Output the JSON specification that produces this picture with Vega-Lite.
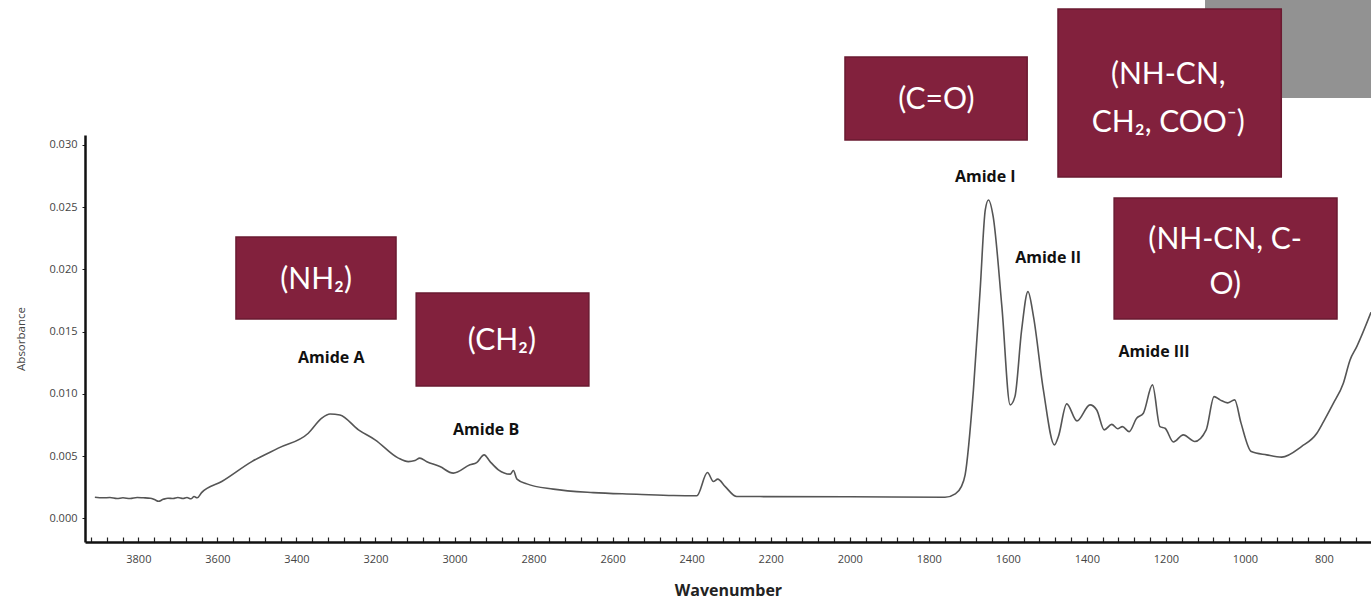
{
  "$schema": "https://vega.github.io/schema/vega-lite/v6.json",
  "width": 1286,
  "height": 407,
  "autosize": {"type": "none"},
  "padding": {"left": 85, "top": 135, "right": 0, "bottom": 59},
  "background": "white",
  "config": {"view": {"stroke": null}},
  "datasets": {
    "spectrum": [
      {"w": 3910, "a": 0.00170}, {"w": 3889, "a": 0.00165}, {"w": 3872, "a": 0.00167}, {"w": 3854, "a": 0.00159},
      {"w": 3839, "a": 0.00165}, {"w": 3821, "a": 0.00159}, {"w": 3803, "a": 0.00167}, {"w": 3788, "a": 0.00165},
      {"w": 3770, "a": 0.00162}, {"w": 3758, "a": 0.00149}, {"w": 3749, "a": 0.00137}, {"w": 3737, "a": 0.00153},
      {"w": 3725, "a": 0.00162}, {"w": 3712, "a": 0.00159}, {"w": 3700, "a": 0.00167}, {"w": 3687, "a": 0.00159},
      {"w": 3677, "a": 0.00167}, {"w": 3667, "a": 0.00157}, {"w": 3659, "a": 0.00175}, {"w": 3651, "a": 0.00165},
      {"w": 3640, "a": 0.00207}, {"w": 3589, "a": 0.00296}, {"w": 3513, "a": 0.00456}, {"w": 3446, "a": 0.00564},
      {"w": 3370, "a": 0.00684}, {"w": 3336, "a": 0.00805}, {"w": 3315, "a": 0.00839}, {"w": 3290, "a": 0.00831},
      {"w": 3243, "a": 0.00711}, {"w": 3201, "a": 0.00631}, {"w": 3142, "a": 0.00484}, {"w": 3117, "a": 0.00456},
      {"w": 3100, "a": 0.00465}, {"w": 3088, "a": 0.00484}, {"w": 3070, "a": 0.00455}, {"w": 3037, "a": 0.00416},
      {"w": 3003, "a": 0.00363}, {"w": 2961, "a": 0.00430}, {"w": 2944, "a": 0.00448}, {"w": 2925, "a": 0.00510},
      {"w": 2910, "a": 0.00456}, {"w": 2889, "a": 0.00390}, {"w": 2859, "a": 0.00355}, {"w": 2851, "a": 0.00384},
      {"w": 2842, "a": 0.00315}, {"w": 2817, "a": 0.00277}, {"w": 2750, "a": 0.00235}, {"w": 2649, "a": 0.00207},
      {"w": 2539, "a": 0.00194}, {"w": 2446, "a": 0.00183}, {"w": 2387, "a": 0.00181}, {"w": 2360, "a": 0.00368},
      {"w": 2345, "a": 0.00296}, {"w": 2334, "a": 0.00315}, {"w": 2315, "a": 0.00255}, {"w": 2286, "a": 0.00175},
      {"w": 2227, "a": 0.00175}, {"w": 1999, "a": 0.00173}, {"w": 1759, "a": 0.00169}, {"w": 1733, "a": 0.00197},
      {"w": 1718, "a": 0.00253}, {"w": 1708, "a": 0.00349}, {"w": 1687, "a": 0.01032}, {"w": 1670, "a": 0.01835},
      {"w": 1657, "a": 0.02478}, {"w": 1649, "a": 0.02558}, {"w": 1637, "a": 0.02424}, {"w": 1615, "a": 0.01701},
      {"w": 1594, "a": 0.00912}, {"w": 1582, "a": 0.00978}, {"w": 1565, "a": 0.01514}, {"w": 1549, "a": 0.01822},
      {"w": 1535, "a": 0.01621}, {"w": 1510, "a": 0.01032}, {"w": 1482, "a": 0.00590}, {"w": 1472, "a": 0.00657},
      {"w": 1451, "a": 0.00920}, {"w": 1425, "a": 0.00783}, {"w": 1392, "a": 0.00912}, {"w": 1375, "a": 0.00871},
      {"w": 1356, "a": 0.00711}, {"w": 1337, "a": 0.00755}, {"w": 1322, "a": 0.00720}, {"w": 1310, "a": 0.00737},
      {"w": 1293, "a": 0.00697}, {"w": 1274, "a": 0.00805}, {"w": 1257, "a": 0.00845}, {"w": 1234, "a": 0.01072},
      {"w": 1215, "a": 0.00737}, {"w": 1202, "a": 0.00724}, {"w": 1181, "a": 0.00614}, {"w": 1156, "a": 0.00671},
      {"w": 1127, "a": 0.00618}, {"w": 1098, "a": 0.00711}, {"w": 1078, "a": 0.00978}, {"w": 1063, "a": 0.00952},
      {"w": 1044, "a": 0.00928}, {"w": 1026, "a": 0.00952}, {"w": 1010, "a": 0.00767}, {"w": 984, "a": 0.00537},
      {"w": 945, "a": 0.00510}, {"w": 907, "a": 0.00492}, {"w": 857, "a": 0.00577}, {"w": 818, "a": 0.00684},
      {"w": 801, "a": 0.00778}, {"w": 776, "a": 0.00925}, {"w": 751, "a": 0.01086}, {"w": 734, "a": 0.01273},
      {"w": 717, "a": 0.01380}, {"w": 681, "a": 0.01655}
    ],
    "shade": [
      {"w": 1101, "w2": 681, "a": 0.03378, "a2": 0.04165}
    ],
    "notes": [
      {"w": 3553, "w2": 3148, "a": 0.01602, "a2": 0.02261},
      {"w": 3097, "w2": 2660, "a": 0.01064, "a2": 0.01811},
      {"w": 2012, "w2": 1551, "a": 0.03040, "a2": 0.03707},
      {"w": 1473, "w2": 908, "a": 0.02743, "a2": 0.04092},
      {"w": 1331, "w2": 767, "a": 0.01602, "a2": 0.02574}
    ],
    "noteText": [
      {"w": 3350, "a": 0.01916, "t": "(NH₂)"},
      {"w": 2880, "a": 0.01426, "t": "(CH₂)"},
      {"w": 1781, "a": 0.03361, "t": "(C=O)"},
      {"w": 1194, "a": 0.03562, "t": "(NH-CN,"},
      {"w": 1194, "a": 0.03177, "t": "CH₂, COO⁻)"},
      {"w": 1050, "a": 0.02237, "t": "(NH-CN, C-"},
      {"w": 1050, "a": 0.01876, "t": "O)"}
    ],
    "bands": [
      {"w": 3312, "a": 0.01289, "t": "Amide A"},
      {"w": 2920, "a": 0.00711, "t": "Amide B"},
      {"w": 1657, "a": 0.02743, "t": "Amide I"},
      {"w": 1498, "a": 0.02092, "t": "Amide II"},
      {"w": 1230, "a": 0.01337, "t": "Amide III"}
    ]
  },
  "encoding": {
    "x": {
      "field": "w",
      "type": "quantitative",
      "scale": {"domain": [3935, 681], "nice": false, "zero": false},
      "axis": {
        "title": "Wavenumber",
        "titleFont": "Open Sans",
        "titleFontSize": 16,
        "titleFontWeight": "bold",
        "titleColor": "#222222",
        "titlePadding": 18,
        "values": [3920, 3880, 3840, 3800, 3760, 3720, 3680, 3640, 3600, 3560, 3520, 3480, 3440, 3400, 3360, 3320, 3280, 3240, 3200, 3160, 3120, 3080, 3040, 3000, 2960, 2920, 2880, 2840, 2800, 2760, 2720, 2680, 2640, 2600, 2560, 2520, 2480, 2440, 2400, 2360, 2320, 2280, 2240, 2200, 2160, 2120, 2080, 2040, 2000, 1960, 1920, 1880, 1840, 1800, 1760, 1720, 1680, 1640, 1600, 1560, 1520, 1480, 1440, 1400, 1360, 1320, 1280, 1240, 1200, 1160, 1120, 1080, 1040, 1000, 960, 920, 880, 840, 800, 760, 720],
        "labelExpr": "datum.value % 200 === 0 ? format(datum.value, 'd') : ''",
        "labelFont": "Open Sans",
        "labelFontSize": 11,
        "labelColor": "#444444",
        "labelPadding": 16,
        "labelFlush": false,
        "labelOverlap": false,
        "domainColor": "#111111",
        "domainWidth": 2.5,
        "tickColor": "#222222",
        "tickWidth": 1.2,
        "tickSize": -5,
        "grid": false
      }
    },
    "y": {
      "field": "a",
      "type": "quantitative",
      "scale": {"domain": [-0.0019, 0.0308], "nice": false, "zero": false},
      "axis": {
        "title": "Absorbance",
        "titleFont": "Open Sans",
        "titleFontSize": 11.5,
        "titleFontWeight": "normal",
        "titleColor": "#444444",
        "titlePadding": 22,
        "values": [0, 0.005, 0.01, 0.015, 0.02, 0.025, 0.03],
        "format": ".3f",
        "labelFont": "Open Sans",
        "labelFontSize": 11,
        "labelColor": "#444444",
        "labelPadding": 5,
        "domainColor": "#111111",
        "domainWidth": 2.5,
        "tickColor": "#222222",
        "tickSize": 3,
        "grid": false
      }
    }
  },
  "layer": [
    {
      "data": {"name": "shade"},
      "mark": {"type": "rect", "fill": "#929292"},
      "encoding": {"x2": {"field": "w2"}, "y2": {"field": "a2"}}
    },
    {
      "data": {"name": "notes"},
      "mark": {"type": "rect", "fill": "#82213D", "stroke": "#6A1A31", "strokeWidth": 1.5},
      "encoding": {"x2": {"field": "w2"}, "y2": {"field": "a2"}}
    },
    {
      "data": {"name": "spectrum"},
      "mark": {"type": "line", "color": "#555555", "strokeWidth": 1.6, "interpolate": "monotone"},
      "encoding": {}
    },
    {
      "data": {"name": "noteText"},
      "mark": {"type": "text", "font": "Lato", "fontSize": 30, "color": "white", "align": "center", "baseline": "middle"},
      "encoding": {"text": {"field": "t"}}
    },
    {
      "data": {"name": "bands"},
      "mark": {"type": "text", "font": "Open Sans", "fontSize": 16, "fontWeight": "bold", "color": "#111111", "align": "center", "baseline": "middle"},
      "encoding": {"text": {"field": "t"}}
    }
  ]
}
